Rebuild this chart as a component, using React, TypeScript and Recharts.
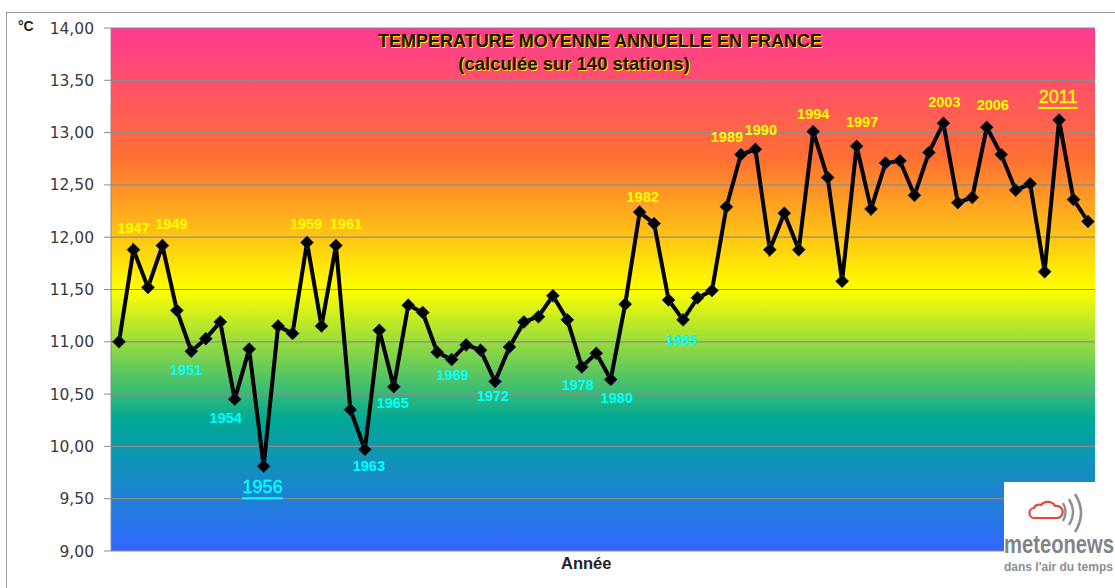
import React from "react";
import { LineChart, Line, XAxis, YAxis, CartesianGrid, LabelList } from "recharts";

const years = Array.from({ length: 68 }, (_, i) => String(1946 + i));
const temps = [
  11.0, 11.88, 11.52, 11.92, 11.3, 10.91, 11.03, 11.19, 10.45, 10.93,
  9.81, 11.15, 11.08, 11.95, 11.15, 11.92, 10.35, 9.97, 11.11, 10.57,
  11.35, 11.28, 10.9, 10.83, 10.97, 10.92, 10.62, 10.95, 11.19, 11.24,
  11.44, 11.21, 10.76, 10.89, 10.64, 11.36, 12.24, 12.13, 11.4, 11.21,
  11.42, 11.49, 12.29, 12.79, 12.84, 11.88, 12.23, 11.88, 13.01, 12.57,
  11.58, 12.87, 12.27, 12.71, 12.73, 12.4, 12.81, 13.09, 12.33, 12.38,
  13.05, 12.79, 12.45, 12.51, 11.67, 13.12, 12.36, 12.15,
];
const yTicks = [9, 9.5, 10, 10.5, 11, 11.5, 12, 12.5, 13, 13.5, 14];
const hotYears = ["1947", "1949", "1959", "1961", "1982", "1989", "1990", "1994", "1997", "2003", "2006", "2011"];
const coldYears = ["1951", "1954", "1956", "1963", "1965", "1969", "1972", "1978", "1980", "1985"];
const recordYears = ["1956", "2011"];
const titleLine1 = "TEMPERATURE MOYENNE ANNUELLE EN FRANCE";
const titleLine2 = "(calculée sur 140 stations)";

const labelNudge: Record<string, [number, number]> = {
  "1947": [0, -22], "1949": [9, -21.5], "1951": [-5, 19], "1954": [-9, 19], "1956": [-1, 21],
  "1959": [-1, -18], "1961": [10, -21.5], "1963": [4, 16.5], "1965": [-1, 16], "1969": [1, 15.5],
  "1972": [-2, 14.5], "1978": [-4, 18], "1980": [6, 18.5], "1982": [3, -15], "1985": [-2, 20],
  "1989": [-14, -18], "1990": [5.5, -19], "1994": [0, -17.5], "1997": [5.5, -24], "2003": [1, -21],
  "2006": [6, -22], "2011": [-1, -23],
};

const data = years.map((year, i) => ({ year, temp: temps[i] }));
const sans = "'Liberation Sans', Arial, sans-serif";

function Diamond(props: any) {
  const { cx, cy, index } = props;
  const r = 6.5;
  return (
    <path
      key={index}
      d={`M${cx},${cy - r}L${cx + r},${cy}L${cx},${cy + r}L${cx - r},${cy}Z`}
      fill="#000"
      stroke="#24406e"
      strokeWidth={0.8}
    />
  );
}

function YearLabel(props: any) {
  const { x, y, index } = props;
  const year = years[index];
  const hot = hotYears.includes(year);
  const cold = coldYears.includes(year);
  if (!hot && !cold) return null;
  const big = recordYears.includes(year);
  const [dx, dy] = labelNudge[year];
  const color = hot ? "#FFFF00" : "#00FFFF";
  return (
    <text
      x={x + dx}
      y={y + dy}
      textAnchor="middle"
      dominantBaseline="central"
      fill={color}
      stroke={big ? color : undefined}
      strokeWidth={big ? 0.35 : undefined}
      fontFamily={sans}
      fontSize={big ? 18 : 14.5}
      fontWeight={big ? 400 : 700}
      textDecoration={big ? "underline" : undefined}
    >
      {year}
    </text>
  );
}

function Logo() {
  return (
    <div style={{ position: "absolute", left: 1004, top: 482, width: 111, height: 106, background: "#fff", overflow: "hidden" }}>
      <svg width={111} height={106} style={{ position: "absolute", left: 0, top: 0 }}>
        <path
          d="M31,36 a5,5 0 0 1 -1,-10 a5,4 0 0 1 7,-3 a8,7 0 0 1 14,1 a6,6 0 0 1 3,12 Z"
          fill="none"
          stroke="#e8483a"
          strokeWidth={2.2}
          strokeLinejoin="round"
        />
        <path d="M59,21 q5,9 0,18" fill="none" stroke="#8a9091" strokeWidth={2.4} />
        <path d="M65,17 q8,13 0,26" fill="none" stroke="#8a9091" strokeWidth={2.4} />
        <path d="M71,12 q12,19 0,38" fill="none" stroke="#8a9091" strokeWidth={2.6} />
        <text x={0} y={71} fontFamily={sans} fontWeight={700} fontSize={25} fill="#7f8687" textLength={110} lengthAdjust="spacingAndGlyphs">
          meteonews
        </text>
        <text x={0} y={89} fontFamily={sans} fontWeight={700} fontSize={12} fill="#8a9091">
          dans l'air du temps
        </text>
      </svg>
    </div>
  );
}

export default function App() {
  const titleStyle: React.CSSProperties = {
    position: "absolute",
    width: 600,
    textAlign: "center",
    fontFamily: sans,
    fontWeight: 700,
    color: "#1a1200",
    textShadow: "1px 1px 0 #FFE600",
    whiteSpace: "nowrap",
  };
  return (
    <div style={{ position: "absolute", left: 0, top: 0, width: 1115, height: 588, background: "#fff", overflow: "hidden" }}>
      <div style={{ position: "absolute", left: 6, top: 12, width: 1109, height: 576, borderLeft: "1px solid #9a9a9a", borderTop: "1px solid #9a9a9a", boxSizing: "border-box" }} />
      <LineChart width={1115} height={588} data={data} margin={{ top: 28, right: 20, bottom: 37, left: 0 }} style={{ position: "absolute", left: 0, top: 0 }}>
        <defs>
          <linearGradient id="thermal" x1="0" y1="0" x2="0" y2="1">
            <stop offset="0" stopColor="#FF3A92" />
            <stop offset="0.25" stopColor="#FF7033" />
            <stop offset="0.5" stopColor="#FFFF00" />
            <stop offset="0.75" stopColor="#00A896" />
            <stop offset="1" stopColor="#3366FF" />
          </linearGradient>
        </defs>
        <CartesianGrid vertical={false} stroke="#8c8c8c" strokeWidth={1.2} fill="url(#thermal)" fillOpacity={1} />
        <XAxis dataKey="year" hide padding={{ left: 8, right: 7 }} />
        <YAxis
          width={111}
          domain={[9, 14]}
          ticks={yTicks}
          interval={0}
          tickFormatter={(v: number) => v.toFixed(2).replace(".", ",")}
          tick={{ fontFamily: "'DejaVu Sans', sans-serif", fontSize: 15.5, fill: "#3a3a3a" }}
          tickSize={7}
          tickMargin={10}
          stroke="#8c8c8c"
        />
        <Line
          dataKey="temp"
          stroke="#000"
          strokeWidth={4}
          isAnimationActive={false}
          dot={(p: any) => <Diamond {...p} />}
        >
          <LabelList dataKey="year" content={(p: any) => <YearLabel {...p} />} />
        </Line>
      </LineChart>
      <div style={{ ...titleStyle, left: 300, top: 31, fontSize: 18 }}>{titleLine1}</div>
      <div style={{ ...titleStyle, left: 274, top: 53, fontSize: 18.5 }}>{titleLine2}</div>
      <div style={{ position: "absolute", left: 18, top: 18, fontFamily: sans, fontWeight: 700, fontSize: 14, color: "#222" }}>°C</div>
      <div style={{ position: "absolute", left: 561, top: 554, fontFamily: sans, fontWeight: 700, fontSize: 16.5, color: "#222" }}>Année</div>
      <Logo />
    </div>
  );
}
